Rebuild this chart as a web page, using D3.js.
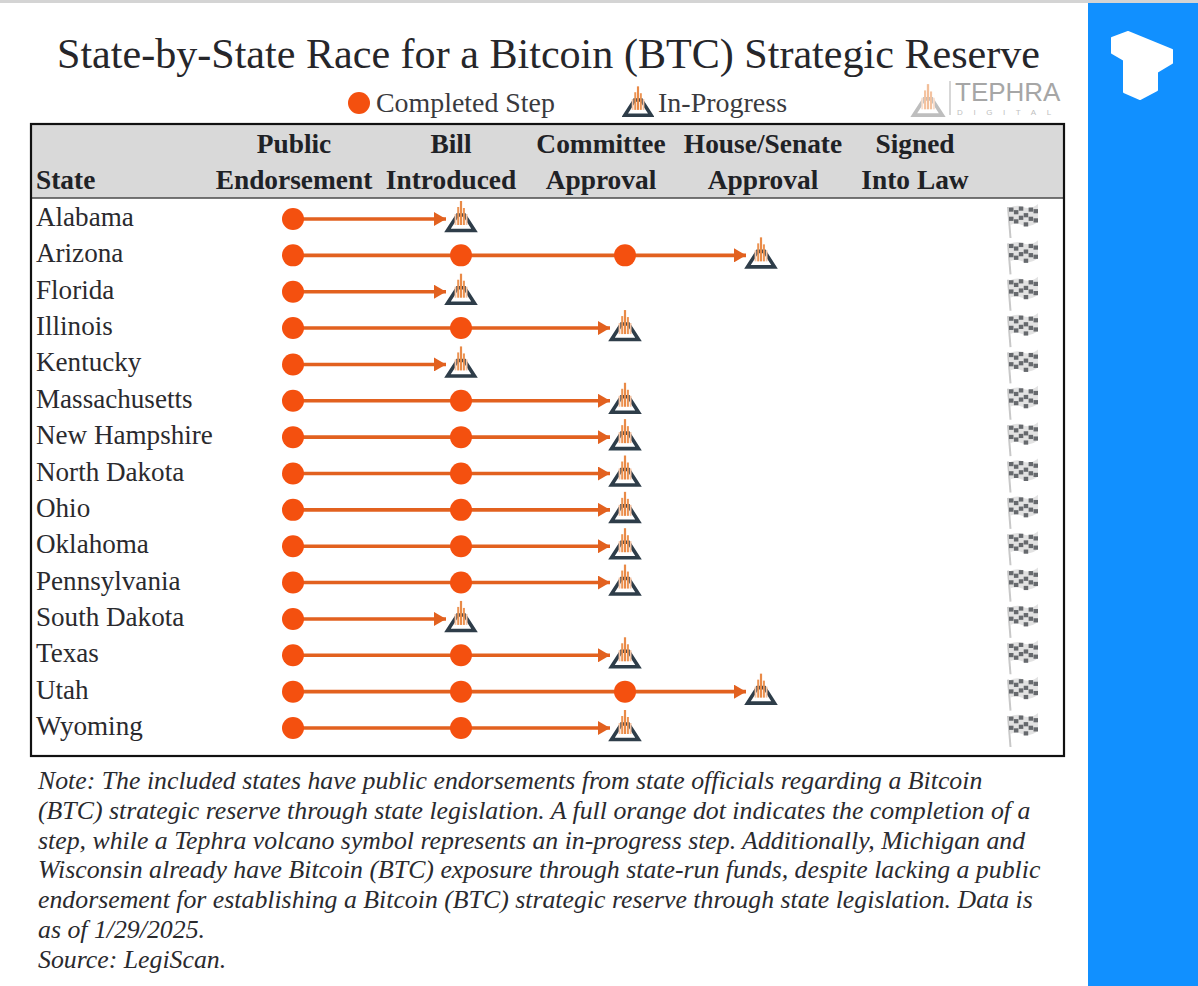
<!DOCTYPE html>
<html><head><meta charset="utf-8">
<script src="https://cdn.jsdelivr.net/npm/d3@7"></script>
<style>html,body{margin:0;padding:0;background:#fff}svg{display:block}text{font-family:"Liberation Serif",serif}</style>
</head><body><svg id="c" width="1198" height="986"></svg>
<script>
const states=["Alabama","Arizona","Florida","Illinois","Kentucky","Massachusetts","New Hampshire","North Dakota","Ohio","Oklahoma","Pennsylvania","South Dakota","Texas","Utah","Wyoming"];
// index of the step currently in progress (0 = Public Endorsement, ... 4 = Signed Into Law)
const inProgressStep=[1,3,1,2,1,2,2,2,2,2,2,1,2,3,2];
const steps=["Public Endorsement","Bill Introduced","Committee Approval","House/Senate Approval","Signed Into Law"];
const headerTop=["Public","Bill","Committee","House/Senate","Signed"];
const headerBottom=["Endorsement","Introduced","Approval","Approval","Into Law"];
const noteLines=["Note: The included states have public endorsements from state officials regarding a Bitcoin","(BTC) strategic reserve through state legislation. A full orange dot indicates the completion of a","step, while a Tephra volcano symbol represents an in-progress step. Additionally, Michigan and","Wisconsin already have Bitcoin (BTC) exposure through state-run funds, despite lacking a public","endorsement for establishing a Bitcoin (BTC) strategic reserve through state legislation. Data is","as of 1/29/2025.","Source: LegiScan."];
const title="State-by-State Race for a Bitcoin (BTC) Strategic Reserve";

const svg=d3.select("#c");
const ORANGE="#f4500f",LINE="#e2611f",DARK="#2f3d4a",INK="#26262a";
const headerX=d3.scaleOrdinal().domain(steps).range([294,451,601,763,915]);
const xs=d3.scaleOrdinal().domain(steps).range([293,461,625,761,915]);
const y=d3.scalePoint().domain(states).range([219,728]);

const defs=svg.append("defs");
defs.append("filter").attr("id","soft").attr("x","-10%").attr("y","-10%").attr("width","120%").attr("height","120%").append("feGaussianBlur").attr("stdDeviation",0.55);
defs.append("marker").attr("id","ah").attr("markerUnits","userSpaceOnUse").attr("viewBox","0 0 12 14").attr("refX",12).attr("refY",7).attr("markerWidth",12).attr("markerHeight",14).attr("orient","auto").append("path").attr("d","M0,0 L12,7 L0,14 Z").attr("fill",LINE);

// page furniture
svg.append("rect").attr("x",0).attr("y",0).attr("width",1198).attr("height",3).attr("fill","#d4d4d4");
svg.append("rect").attr("x",1088).attr("y",3).attr("width",110).attr("height",983).attr("fill","#1190ff");
const tLogo=[[1112,38],[1128,32],[1172,50],[1172,63],[1157,72],[1157,90],[1140,99],[1124,92],[1124,60],[1112,53]];
svg.append("path").attr("d",d3.line().curve(d3.curveLinearClosed)(tLogo)).attr("fill","#fff").attr("stroke","#fff").attr("stroke-width",2).attr("stroke-linejoin","round");

// title
svg.append("text").attr("x",548.5).attr("y",68).attr("text-anchor","middle").attr("font-size",42.1).attr("fill",INK).text(title);

// symbol helpers
function volcano(g,cx,cy,s,opa,frame){
  const n=g.append("g").attr("transform",`translate(${cx},${cy}) scale(${s})`).attr("opacity",opa||1).attr("filter","url(#soft)");
  n.append("path").attr("d","M-13.5,11.5 L13.5,11.5 L3.5,-4 L-3.5,-4 Z").attr("fill","none").attr("stroke",frame||DARK).attr("stroke-width",3.6).attr("stroke-linejoin","miter");
  [[-5.5,-5,"#f6c4a4",1.8],[-2.8,-12,"#ec9352",2],[0,-18,"#e98a46",2.2],[2.9,-11,"#ec9352",2],[5.6,-5,"#f6c4a4",1.8]].forEach(b=>{
    n.append("rect").attr("x",b[0]-b[3]/2).attr("y",b[1]).attr("width",b[3]).attr("height",6-b[1]).attr("fill",b[2]);
  });
}
function flag(g,cx,cy){
  const n=g.append("g").attr("transform",`translate(${cx},${cy})`).attr("filter","url(#soft)");
  n.append("line").attr("x1",-14).attr("y1",-12).attr("x2",-11.5).attr("y2",19).attr("stroke","#c8c8c8").attr("stroke-width",2);
  const wave=[2,0,1,3,2,-1];
  n.append("path").attr("d","M-13,-11 Q-5,-15 1,-12 Q9,-9 16,-15 L16,3 Q8,9 0,6 Q-6,3 -12,6 Z").attr("fill","#e2e2e2");
  for(let r=0;r<4;r++)for(let c=0;c<6;c++){ if((r+c)%2) continue;
    n.append("rect").attr("x",-13+c*4.9).attr("y",-13.5+r*4.6+wave[c]).attr("width",4.5).attr("height",4.2).attr("fill","#66696d");
  }
}

// legend
svg.append("circle").attr("cx",359).attr("cy",103).attr("r",11).attr("fill",ORANGE);
svg.append("text").attr("x",376).attr("y",112).attr("font-size",27.9).attr("fill","#3a3a3e").text("Completed Step");
volcano(svg,638,104,0.98);
svg.append("text").attr("x",658).attr("y",112).attr("font-size",28).attr("fill","#3a3a3e").text("In-Progress");

// Tephra logo
volcano(svg,928,103,1.05,0.55,"#8a8a8a");
svg.append("line").attr("x1",950).attr("y1",81).attr("x2",950).attr("y2",115).attr("stroke","#bdbdbd").attr("stroke-width",1.2);
svg.append("text").attr("x",955).attr("y",101).attr("font-size",26).attr("fill","#a6a6a6").style("font-family","'Liberation Sans',sans-serif").text("TEPHRA");
svg.append("text").attr("x",957).attr("y",115).attr("font-size",8).attr("letter-spacing",10.6).attr("fill","#c0c0c0").style("font-family","'Liberation Sans',sans-serif").text("DIGITAL");

// table
svg.append("rect").attr("x",31).attr("y",124).attr("width",1033).attr("height",74).attr("fill","#d9d9d9");
svg.append("line").attr("x1",31).attr("x2",1064).attr("y1",198).attr("y2",198).attr("stroke","#4a4a4a").attr("stroke-width",1.6);
svg.append("rect").attr("x",31).attr("y",124).attr("width",1033).attr("height",632).attr("fill","none").attr("stroke","#111").attr("stroke-width",2.2);

const hdr=svg.append("g").attr("font-weight","bold").attr("font-size",27.4).attr("fill","#1f2226").attr("text-anchor","middle");
hdr.selectAll(".h1").data(headerTop).join("text").attr("x",(d,i)=>headerX(steps[i])).attr("y",153).text(d=>d);
hdr.selectAll(".h2").data(headerBottom).join("text").attr("x",(d,i)=>headerX(steps[i])).attr("y",189).text(d=>d);
hdr.append("text").attr("x",36).attr("y",189).attr("text-anchor","start").text("State");

// rows
states.forEach((st,i)=>{
  const cy=y(st), g=svg.append("g");
  g.append("text").attr("x",36).attr("y",cy+7).attr("font-size",27.1).attr("fill","#2a2a2e").text(st);
  const p=inProgressStep[i];
  const end=xs(steps[p]);
  g.append("line").attr("x1",xs(steps[0])).attr("x2",end-15).attr("y1",cy).attr("y2",cy).attr("stroke",LINE).attr("stroke-width",3.6).attr("marker-end","url(#ah)");
  d3.range(p).forEach(k=>g.append("circle").attr("cx",xs(steps[k])).attr("cy",cy).attr("r",11).attr("fill",ORANGE));
  volcano(g,end,cy,1);
  flag(g,1022,cy);
});

// notes
svg.append("g").attr("font-size",25.8).attr("font-style","italic").attr("fill","#2a2a2e")
 .selectAll("text").data(noteLines).join("text").attr("x",38).attr("y",(d,i)=>789+i*29.8).text(d=>d);
</script></body></html>
